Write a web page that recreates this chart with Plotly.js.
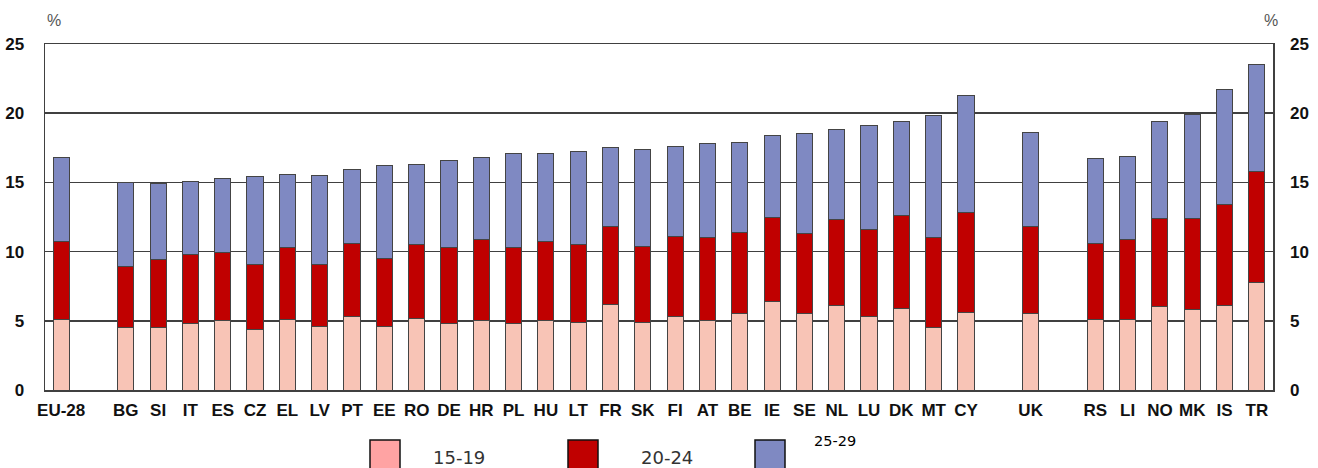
<!DOCTYPE html>
<html>
<head>
<meta charset="utf-8">
<script src="https://cdn.plot.ly/plotly-3.0.1.min.js"></script>
<style>html,body{margin:0;padding:0;background:#fff;}#chart{width:1318px;height:468px;}</style>
</head>
<body>
<div id="chart"></div>
<script>
// Categories (blank entries are visual gaps)
var categories = ["EU-28", " ", "BG", "SI", "IT", "ES", "CZ", "EL", "LV", "PT", "EE", "RO", "DE", "HR", "PL", "HU", "LT", "FR", "SK", "FI", "AT", "BE", "IE", "SE", "NL", "LU", "DK", "MT", "CY", "  ", "UK", "   ", "RS", "LI", "NO", "MK", "IS", "TR"];
// Share of each age group (%), stacked
var age15_19 = [5.1, null, 4.5, 4.5, 4.8, 5.0, 4.4, 5.1, 4.6, 5.3, 4.6, 5.2, 4.8, 5.0, 4.8, 5.0, 4.9, 6.2, 4.9, 5.3, 5.0, 5.5, 6.4, 5.5, 6.1, 5.3, 5.9, 4.5, 5.6, null, 5.5, null, 5.1, 5.1, 6.0, 5.8, 6.1, 7.8];
var age20_24 = [5.6, null, 4.4, 4.9, 5.0, 4.9, 4.7, 5.2, 4.5, 5.3, 4.9, 5.3, 5.5, 5.9, 5.5, 5.7, 5.6, 5.6, 5.5, 5.8, 6.0, 5.9, 6.1, 5.8, 6.2, 6.3, 6.7, 6.5, 7.2, null, 6.3, null, 5.5, 5.8, 6.4, 6.6, 7.3, 8.0];
var age25_29 = [6.1, null, 6.1, 5.5, 5.3, 5.4, 6.3, 5.3, 6.4, 5.3, 6.7, 5.8, 6.3, 5.9, 6.8, 6.4, 6.7, 5.7, 7.0, 6.5, 6.8, 6.5, 5.9, 7.2, 6.5, 7.5, 6.8, 8.8, 8.5, null, 6.8, null, 6.1, 6.0, 7.0, 7.5, 8.3, 7.7];
var seriesNames = ["15-19", "20-24", "25-29"];
var yTicks = [0, 5, 10, 15, 20, 25];

var barColors = ["#F8C4B6", "#C00000", "#7F89C2"];
var legendColors = ["#FFA3A3", "#C00000", "#7F89C2"];
var seriesData = [age15_19, age20_24, age25_29];

var traces = seriesData.map(function (vals, i) {
  return {
    type: "bar",
    name: seriesNames[i],
    x: categories,
    y: vals,
    marker: {color: barColors[i], line: {color: "#444", width: 1}},
    hoverinfo: "x+y+name"
  };
});

var tickFont = {family: "Liberation Sans, Arial, sans-serif", size: 17, color: "#111", weight: "bold"};

var layout = {
  width: 1318,
  height: 468,
  margin: {l: 45, r: 45, t: 44, b: 78},
  paper_bgcolor: "#fff",
  plot_bgcolor: "#fff",
  barmode: "stack",
  bargap: 0.5,
  showlegend: false,
  xaxis: {
    type: "category",
    categoryorder: "array",
    categoryarray: categories,
    range: [-0.5, categories.length - 0.5],
    showline: true,
    linecolor: "#404040",
    linewidth: 1.5,
    mirror: true,
    ticks: "",
    ticklabelstandoff: 4,
    showgrid: false,
    tickfont: tickFont,
    fixedrange: true
  },
  yaxis: {
    range: [0, 25],
    tickvals: yTicks,
    ticktext: yTicks.map(String),
    showline: true,
    linecolor: "#404040",
    linewidth: 1.5,
    mirror: true,
    showgrid: true,
    gridcolor: "#404040",
    gridwidth: 1.5,
    zeroline: false,
    ticks: "",
    ticklabelstandoff: 16,
    tickfont: tickFont,
    fixedrange: true
  },
  yaxis2: {
    overlaying: "y",
    side: "right",
    range: [0, 25],
    tickvals: yTicks,
    ticktext: yTicks.map(String),
    showgrid: false,
    zeroline: false,
    showline: false,
    ticks: "",
    ticklabelstandoff: 16,
    tickfont: tickFont,
    fixedrange: true
  },
  annotations: [
    {xref: "paper", yref: "paper", x: 0, y: (390 - 21) / 346, xanchor: "left", yanchor: "middle", text: "%", showarrow: false, font: {family: "Liberation Sans, Arial, sans-serif", size: 16, color: "#555"}},
    {xref: "paper", yref: "paper", x: (1280 - 45) / 1228, y: (390 - 21) / 346, xanchor: "right", yanchor: "middle", text: "%", showarrow: false, font: {family: "Liberation Sans, Arial, sans-serif", size: 16, color: "#555"}}
  ],
  shapes: []
};

// Custom legend below the chart (swatches + labels)
var legendX = [370, 568, 755];
var labelX = [431, 639, 812];
var labelY = [457, 457, 441];
var labelSize = [18, 18, 14.5];
for (var i = 0; i < 3; i++) {
  layout.shapes.push({
    type: "rect", xref: "paper", yref: "paper",
    x0: (legendX[i] - 45) / 1228, x1: (legendX[i] + 30 - 45) / 1228,
    y0: (390 - 472) / 346, y1: (390 - 440) / 346,
    fillcolor: legendColors[i], line: {color: "#111", width: 1.5}
  });
  layout.annotations.push({
    xref: "paper", yref: "paper",
    x: (labelX[i] - 45) / 1228, y: (390 - labelY[i]) / 346,
    xanchor: "left", yanchor: "middle", showarrow: false,
    text: seriesNames[i],
    font: {family: "DejaVu Sans, Verdana, sans-serif", size: labelSize[i], color: i === 2 ? "#000" : "#333"}
  });
}

// invisible trace so the right axis is rendered
traces.push({type: "scatter", x: [categories[0]], y: [0], yaxis: "y2", mode: "markers", marker: {opacity: 0, size: 1}, hoverinfo: "skip", showlegend: false});

Plotly.newPlot("chart", traces, layout, {displayModeBar: false, staticPlot: true});
</script>
</body>
</html>
